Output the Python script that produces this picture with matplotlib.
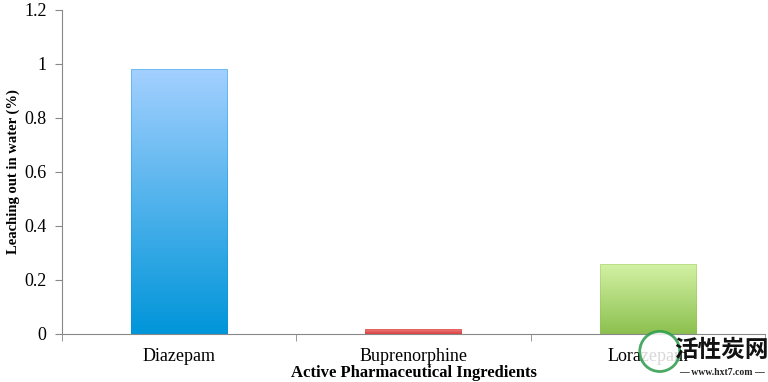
import matplotlib.pyplot as plt
import numpy as np
from matplotlib.colors import LinearSegmentedColormap
from matplotlib.patches import Ellipse

# data
drugs = ['Diazepam', 'Buprenorphine', 'Lorazepam']
leaching = [0.98, 0.02, 0.26]
# gradient colours (top, bottom)
grads = [('#a3d0ff', '#0095d9'), ('#f28a8a', '#d9403f'), ('#d4f2a6', '#8cc04f')]

plt.rcParams['font.family'] = ['Liberation Serif', 'DejaVu Serif']

fig = plt.figure(figsize=(7.68, 3.82), dpi=100)
ax = fig.add_axes([0.0807, 0.1257, 0.9153, 0.8483])

x = np.arange(len(drugs))
bars = ax.bar(x, leaching, width=0.41, color='none', edgecolor='none')
ax.set_xlim(-0.5, 2.5)
ax.set_ylim(0, 1.2)

grad = np.linspace(0, 1, 256).reshape(-1, 1)
for b, (top, bot) in zip(bars, grads):
    cmap = LinearSegmentedColormap.from_list('g', [bot, top])
    xx, yy = b.get_x(), b.get_y()
    w, h = b.get_width(), b.get_height()
    im = ax.imshow(grad, cmap=cmap, origin='lower', aspect='auto',
                   extent=[xx, xx + w, yy, yy + h], zorder=2)
    im.set_clip_path(b)
    ax.add_patch(plt.Rectangle((xx, yy), w, h, fill=False,
                               edgecolor=bot, linewidth=0.6, alpha=0.4, zorder=3))

ax.set_yticks([0, 0.2, 0.4, 0.6, 0.8, 1, 1.2])
ax.set_yticklabels(['0', '0.2', '0.4', '0.6', '0.8', '1', '1.2'])
ax.set_xticks(x)
ax.set_xticklabels(drugs)
ax.set_xticks([-0.5, 0.5, 1.5, 2.5], minor=True)
ax.tick_params(axis='x', which='major', length=0, labelsize=13, pad=10)
ax.tick_params(axis='x', which='minor', length=5, color='#888888')
ax.tick_params(axis='y', length=5, color='#888888', labelsize=13, pad=6)

for s in ['top', 'right']:
    ax.spines[s].set_visible(False)
for s in ['left', 'bottom']:
    ax.spines[s].set_color('#888888')

ax.set_ylabel('Leaching out in water (%)', fontweight='bold', fontsize=10.5, labelpad=3)
ax.set_xlabel('Active Pharmaceutical Ingredients', fontweight='bold', fontsize=12, labelpad=0)

# watermark
fig.patches.append(Ellipse((0.859, 0.08), 0.052, 0.105, transform=fig.transFigure,
                           facecolor='white', edgecolor='#2a9a4a', linewidth=2, alpha=0.85))
fig.text(0.94, 0.085, '活性炭网', family=['Noto Sans CJK SC'], fontsize=17,
         fontweight='bold', ha='center', va='center', color='#111111')
fig.text(0.94, 0.024, '— www.hxt7.com —', fontsize=7, fontweight='bold',
         ha='center', va='center', color='#222222')

fig.savefig('out.png', dpi=100)
